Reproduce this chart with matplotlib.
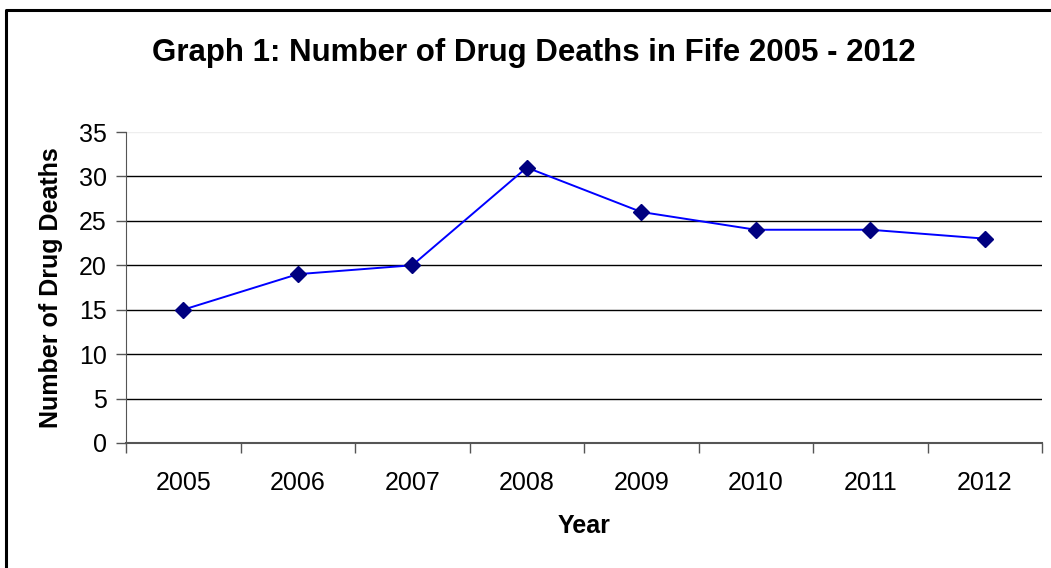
import numpy as np
import matplotlib.pyplot as plt
from matplotlib.lines import Line2D

# Fife drug deaths per year
years = ['2005', '2006', '2007', '2008', '2009', '2010', '2011', '2012']
deaths = [15, 19, 20, 31, 26, 24, 24, 23]

plt.rcParams['font.family'] = ['Liberation Sans', 'DejaVu Sans']

W, H = 1051, 568
fig = plt.figure(figsize=(W / 100, H / 100), dpi=100)

# outer chart frame (only top and left edges visible)
fig.add_artist(Line2D([6 / W, 6 / W, 1], [0, 1 - 10 / H, 1 - 10 / H],
                      color='black', lw=2.2, transform=fig.transFigure))

ax = fig.add_axes([126 / W, 1 - 443 / H, (1042 - 126) / W, (443 - 132) / H])

x = np.arange(len(years))
ax.plot(x, deaths, color='#0000FF', lw=1.4, marker='D', markersize=8,
        markerfacecolor='#000080', markeredgecolor='#000080', zorder=3)

ax.set_xlim(-0.5, len(years) - 0.5)
ax.set_ylim(0, 35)
ax.set_yticks(range(0, 36, 5))
ax.set_xticks(x)
ax.set_xticklabels(years)
ax.set_xticks(np.arange(-0.5, len(years)), minor=True)
ax.tick_params(axis='x', which='major', length=0, labelsize=18, pad=20)
ax.tick_params(axis='x', which='minor', length=7, width=1, color='#555555', direction='out')
ax.tick_params(axis='y', length=7, width=1, color='#555555', labelsize=18, pad=7)

for y in range(5, 31, 5):
    ax.axhline(y, color='black', lw=1, zorder=1)
ax.axhline(35, color='#eeeeee', lw=1, zorder=1)

for s in ['top', 'right']:
    ax.spines[s].set_visible(False)
ax.spines['left'].set_color('#555555')
ax.spines['bottom'].set_color('#555555')
ax.spines['bottom'].set_linewidth(1.5)

ax.set_ylabel('Number of Drug Deaths', fontsize=18, fontweight='bold', labelpad=11)
ax.set_xlabel('Year', fontsize=18, fontweight='bold', labelpad=14)
fig.text(534 / W, 1 - 53 / H, 'Graph 1: Number of Drug Deaths in Fife 2005 - 2012',
         ha='center', va='center', fontsize=22.5, fontweight='bold')

fig.savefig('out.png', dpi=100)
